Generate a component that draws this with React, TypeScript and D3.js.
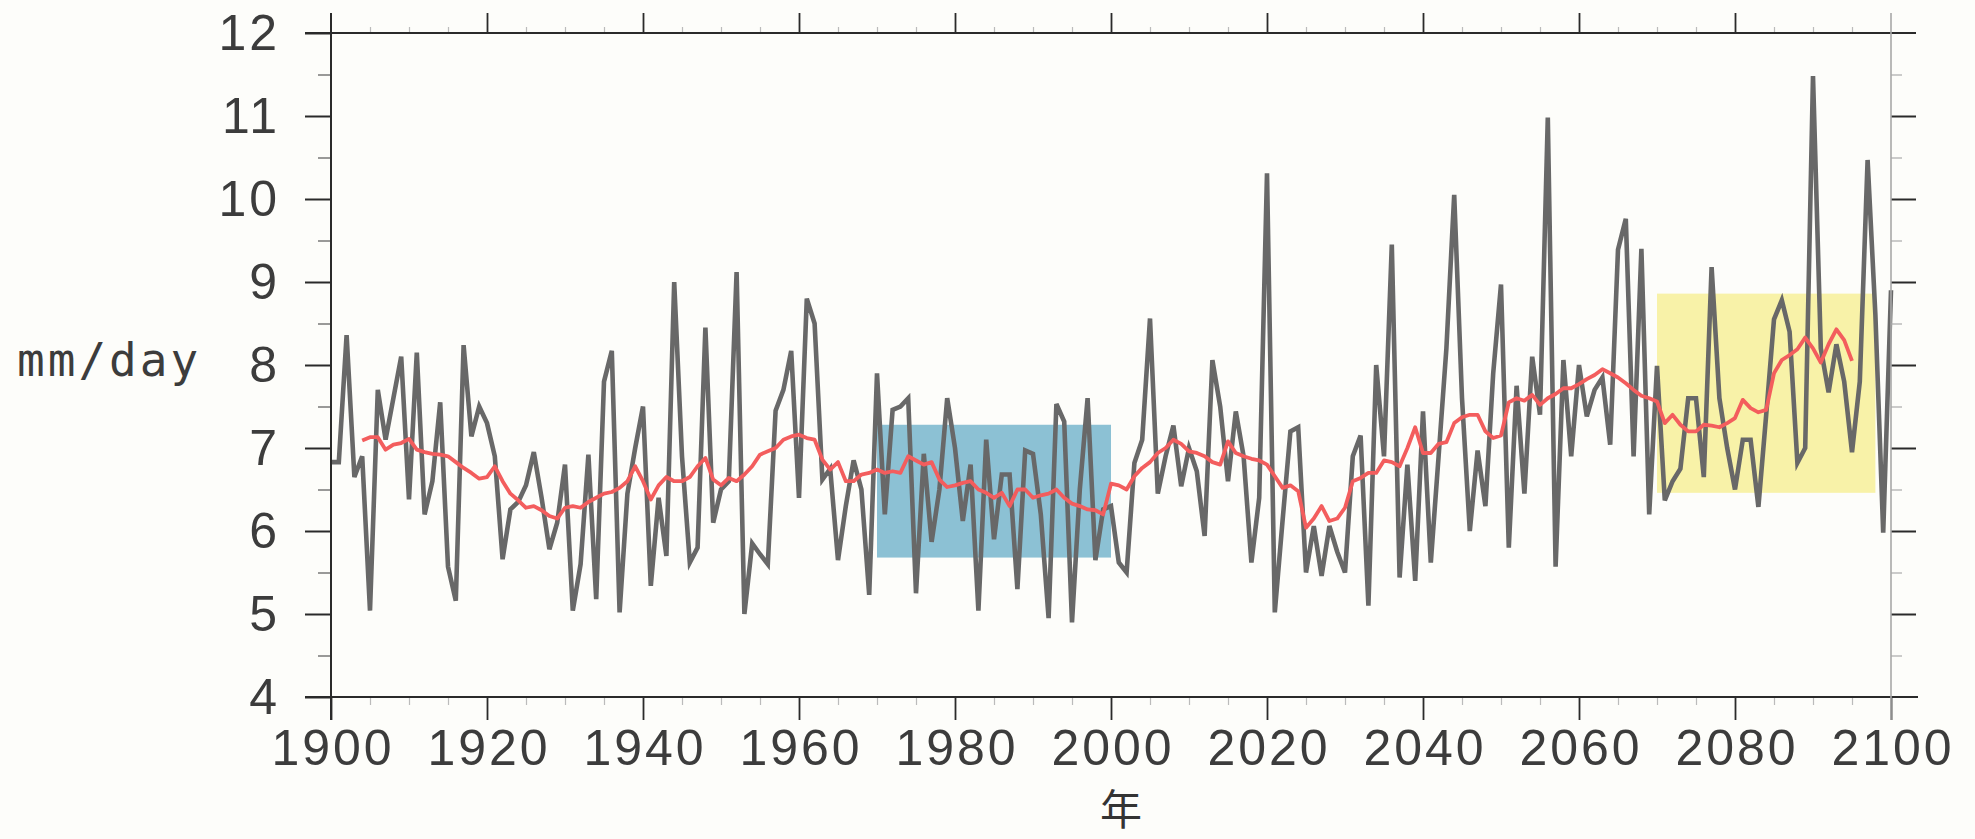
import * as d3 from "d3";
import React, { useRef, useEffect } from "react";

const width = 1975;
const height = 839;

// annual series, one value per year 1900..2100 (mm/day)
const years = d3.range(1900, 2101);
const annualRain = [
  6.83, 6.83, 8.36, 6.65, 6.9, 5.04, 7.7, 7.1, 7.6, 8.1,
  6.38, 8.15, 6.2, 6.6, 7.55, 5.57, 5.16, 8.24, 7.14, 7.5,
  7.3, 6.9, 5.66, 6.26, 6.35, 6.55, 6.95, 6.4, 5.78, 6.1,
  6.8, 5.04, 5.6, 6.92, 5.18, 7.8, 8.17, 5.02, 6.45, 7.0,
  7.5, 5.34, 6.4, 5.7, 9.0, 6.9, 5.62, 5.8, 8.45, 6.1,
  6.5, 6.6, 9.12, 5.0, 5.85, 5.72, 5.6, 7.45, 7.7, 8.17,
  6.4, 8.8, 8.5, 6.62, 6.75, 5.65, 6.3, 6.85, 6.5, 5.23,
  7.9, 6.2, 7.46, 7.5, 7.6, 5.25, 6.93, 5.87, 6.5, 7.6,
  7.0, 6.12, 6.8, 5.04, 7.1, 5.9, 6.68, 6.68, 5.3, 6.97,
  6.93, 6.2, 4.95, 7.53, 7.32, 4.9, 6.5, 7.6, 5.65, 6.26,
  6.3, 5.62, 5.5, 6.82, 7.1, 8.56, 6.45, 6.9, 7.27, 6.54,
  7.0, 6.72, 5.94, 8.06, 7.5, 6.6, 7.44, 6.9, 5.62, 6.4,
  10.31, 5.02, 6.13, 7.2, 7.25, 5.5, 6.06, 5.46, 6.06, 5.75,
  5.5, 6.9, 7.15, 5.1, 8.0, 6.9, 9.45, 5.44, 6.8, 5.4,
  7.44, 5.62, 6.9, 8.2, 10.05, 7.6, 6.0, 6.97, 6.3, 7.9,
  8.97, 5.8, 7.75, 6.45, 8.1, 7.4, 10.98, 5.57, 8.06, 6.9,
  8.0, 7.38, 7.7, 7.85, 7.04, 9.39, 9.76, 6.9, 9.4, 6.2,
  7.99, 6.37, 6.6, 6.75, 7.6, 7.6, 6.65, 9.18, 7.6, 7.0,
  6.5, 7.1, 7.1, 6.29, 7.4, 8.55, 8.78, 8.4, 6.82, 7.0,
  11.48, 8.2, 7.67, 8.25, 7.8, 6.95, 7.8, 10.47, 8.6, 5.98,
  8.9,
];

// running mean (red), 1904..2095
const smoothYears = d3.range(1904, 2096);
const smoothRain = [
  7.09, 7.13, 7.13, 6.98, 7.04, 7.06,
  7.11, 6.98, 6.95, 6.93, 6.92, 6.9, 6.83, 6.76, 6.7, 6.63,
  6.65, 6.78, 6.6, 6.45, 6.37, 6.28, 6.3, 6.25, 6.18, 6.15,
  6.28, 6.3, 6.28, 6.35, 6.4, 6.45, 6.47, 6.52, 6.6, 6.78,
  6.6, 6.38, 6.55, 6.65, 6.6, 6.6, 6.65, 6.78, 6.88, 6.62,
  6.55, 6.64, 6.6, 6.68, 6.78, 6.92, 6.96, 7.0, 7.1, 7.14,
  7.16, 7.12, 7.1, 6.86, 6.74, 6.83, 6.6, 6.6, 6.68, 6.7,
  6.74, 6.7, 6.72, 6.7, 6.9, 6.85, 6.8, 6.83, 6.62, 6.53,
  6.55, 6.58, 6.6, 6.5, 6.46, 6.4, 6.46, 6.3, 6.5, 6.5,
  6.4, 6.43, 6.45, 6.5, 6.4, 6.33, 6.3, 6.26, 6.25, 6.2,
  6.57, 6.55, 6.5, 6.66, 6.76, 6.83, 6.94, 7.0, 7.1, 7.05,
  6.96, 6.94, 6.9, 6.83, 6.8, 7.08, 6.94, 6.9, 6.87, 6.85,
  6.8, 6.66, 6.52, 6.55, 6.48, 6.04, 6.15, 6.3, 6.12, 6.15,
  6.28, 6.6, 6.64, 6.7, 6.7, 6.85, 6.83, 6.78, 7.0, 7.25,
  6.94, 6.94, 7.05, 7.07, 7.3, 7.37, 7.4, 7.4, 7.2, 7.12,
  7.15, 7.55, 7.6, 7.57, 7.64, 7.52, 7.6, 7.65, 7.72, 7.72,
  7.77, 7.83, 7.88, 7.95, 7.9, 7.85, 7.78, 7.7, 7.63, 7.6,
  7.56, 7.3, 7.4, 7.28, 7.2, 7.2, 7.28, 7.27, 7.25, 7.3,
  7.36, 7.58, 7.48, 7.43, 7.46, 7.9, 8.06, 8.12, 8.19, 8.33,
  8.2, 8.03, 8.25, 8.43, 8.3, 8.05,
];

// shaded periods: [start year, end year], [low, high]
const baselineYears = [1970, 2000];
const baselineRange = [5.68, 7.28];
const futureYears = [2070, 2098];
const futureRange = [6.46, 8.86];

const yTicks = [4, 5, 6, 7, 8, 9, 10, 11, 12];
const yMinorTicks = [4.5, 5.5, 6.5, 7.5, 8.5, 9.5, 10.5, 11.5];
const xTicks = [1900, 1920, 1940, 1960, 1980, 2000, 2020, 2040, 2060, 2080, 2100];
const xMinorTicks = d3.range(1905, 2100, 5).filter((d) => d % 20 !== 0);

function RainChart() {
  const margin = { top: 33, bottom: 142, left: 331, right: 84 };
  const ref = useRef(null);

  useEffect(() => {
    draw();
  }, []); // eslint-disable-line react-hooks/exhaustive-deps

  const draw = () => {
    const x = d3
      .scaleLinear()
      .domain([1900, 2100])
      .range([margin.left, width - margin.right]);
    const y = d3
      .scaleLinear()
      .domain([4, 12])
      .range([height - margin.bottom, margin.top]);

    const svg = d3.select(ref.current);
    svg.selectAll("*").remove();

    svg
      .append("rect")
      .attr("width", width)
      .attr("height", height)
      .attr("fill", "#fdfdfa");

    // shaded boxes
    const boxes = [
      { yrs: baselineYears, rng: baselineRange, color: "#8cc1d4" },
      { yrs: futureYears, rng: futureRange, color: "#f8f2a8" },
    ];
    svg
      .selectAll(".box")
      .data(boxes)
      .join("rect")
      .classed("box", true)
      .attr("x", (d) => x(d.yrs[0]))
      .attr("width", (d) => x(d.yrs[1]) - x(d.yrs[0]))
      .attr("y", (d) => y(d.rng[1]))
      .attr("height", (d) => y(d.rng[0]) - y(d.rng[1]))
      .attr("fill", (d) => d.color);

    const line = d3
      .line()
      .x((d) => x(d[0]))
      .y((d) => y(d[1]));

    svg
      .append("path")
      .datum(years.map((yr, i) => [yr, annualRain[i]]))
      .attr("d", line)
      .attr("fill", "none")
      .attr("stroke", "#686868")
      .attr("stroke-width", 4.6);

    svg
      .append("path")
      .datum(smoothYears.map((yr, i) => [yr, smoothRain[i]]))
      .attr("d", line)
      .attr("fill", "none")
      .attr("stroke", "#f35d5d")
      .attr("stroke-width", 3.8)
      .attr("stroke-linejoin", "round");

    const x0 = x(1900);
    const x1 = x(2100);
    const yTop = y(12);
    const yBot = y(4);

    // axes
    const styleText = (g) =>
      g
        .selectAll("text")
        .attr("font-family", "'Liberation Sans', Arial, sans-serif")
        .attr("font-size", 50)
        .attr("letter-spacing", 3)
        .attr("fill", "#3c3c3c");

    svg
      .append("g")
      .attr("transform", `translate(${x0},0)`)
      .call(d3.axisLeft(y).tickValues(yTicks).tickSize(26).tickPadding(25).tickFormat(d3.format("d")))
      .call((g) => g.select(".domain").remove())
      .call((g) => g.selectAll("line").attr("stroke", "#2a2a2a").attr("stroke-width", 2))
      .call(styleText);

    svg
      .append("g")
      .attr("transform", `translate(${x0},0)`)
      .call(d3.axisLeft(y).tickValues(yMinorTicks).tickSize(13).tickFormat(() => ""))
      .call((g) => g.select(".domain").remove())
      .call((g) => g.selectAll("line").attr("stroke", "#777").attr("stroke-width", 1.5));

    svg
      .append("g")
      .attr("transform", `translate(${x1},0)`)
      .call(d3.axisRight(y).tickValues(yTicks.slice(1, -1)).tickSize(25).tickFormat(() => ""))
      .call((g) => g.select(".domain").remove())
      .call((g) => g.selectAll("line").attr("stroke", "#2a2a2a").attr("stroke-width", 2));

    svg
      .append("g")
      .attr("transform", `translate(${x1},0)`)
      .call(d3.axisRight(y).tickValues(yMinorTicks).tickSize(11).tickFormat(() => ""))
      .call((g) => g.select(".domain").remove())
      .call((g) => g.selectAll("line").attr("stroke", "#aaa").attr("stroke-width", 1.2));

    svg
      .append("g")
      .attr("transform", `translate(0,${yBot})`)
      .call(d3.axisBottom(x).tickValues(xTicks).tickSize(23).tickPadding(9).tickFormat(d3.format("d")))
      .call((g) => g.select(".domain").remove())
      .call((g) => g.selectAll("line").attr("stroke", "#2a2a2a").attr("stroke-width", 1.8))
      .call(styleText)
      .call((g) => g.selectAll("text").attr("dx", 1.5));

    svg
      .append("g")
      .attr("transform", `translate(0,${yBot})`)
      .call(d3.axisBottom(x).tickValues(xMinorTicks).tickSize(8).tickFormat(() => ""))
      .call((g) => g.select(".domain").remove())
      .call((g) => g.selectAll("line").attr("stroke", "#bbb").attr("stroke-width", 1.2));

    svg
      .append("g")
      .attr("transform", `translate(0,${yTop})`)
      .call(d3.axisTop(x).tickValues(xTicks.slice(1, -1)).tickSize(20).tickFormat(() => ""))
      .call((g) => g.select(".domain").remove())
      .call((g) => g.selectAll("line").attr("stroke", "#2a2a2a").attr("stroke-width", 1.8));

    svg
      .append("g")
      .attr("transform", `translate(0,${yTop})`)
      .call(d3.axisTop(x).tickValues(xMinorTicks).tickSize(6).tickFormat(() => ""))
      .call((g) => g.select(".domain").remove())
      .call((g) => g.selectAll("line").attr("stroke", "#bbb").attr("stroke-width", 1.2));

    // frame, each side running past the corners by a tick length
    const frame = [
      { x1: x0, y1: yTop - 20, x2: x0, y2: yBot + 23, c: "#2a2a2a", w: 2 },
      { x1: x0 - 26, y1: yBot, x2: x1 + 27, y2: yBot, c: "#2a2a2a", w: 2 },
      { x1: x0 - 26, y1: yTop, x2: x1 + 25, y2: yTop, c: "#2a2a2a", w: 2 },
      { x1: x1, y1: yTop - 20, x2: x1, y2: yBot + 23, c: "#a8a8a8", w: 1.6 },
    ];
    svg
      .selectAll(".frame")
      .data(frame)
      .join("line")
      .classed("frame", true)
      .attr("x1", (d) => d.x1)
      .attr("y1", (d) => d.y1)
      .attr("x2", (d) => d.x2)
      .attr("y2", (d) => d.y2)
      .attr("stroke", (d) => d.c)
      .attr("stroke-width", (d) => d.w);

    svg
      .append("text")
      .attr("x", 17)
      .attr("y", y(8) + 11)
      .attr("font-family", "'DejaVu Sans Mono', monospace")
      .attr("font-size", 46)
      .attr("letter-spacing", 3)
      .attr("fill", "#3c3c3c")
      .text("mm/day");

    svg
      .append("text")
      .attr("x", (x0 + x1) / 2 + 10)
      .attr("y", 825)
      .attr("text-anchor", "middle")
      .attr("font-family", "'Noto Sans CJK JP', sans-serif")
      .attr("font-size", 42)
      .attr("fill", "#333")
      .text("年");
  };

  return (
    <svg
      ref={ref}
      width={width}
      height={height}
      style={{ position: "absolute", left: 0, top: 0, display: "block" }}
    ></svg>
  );
}

export default function App() {
  return <RainChart />;
}
